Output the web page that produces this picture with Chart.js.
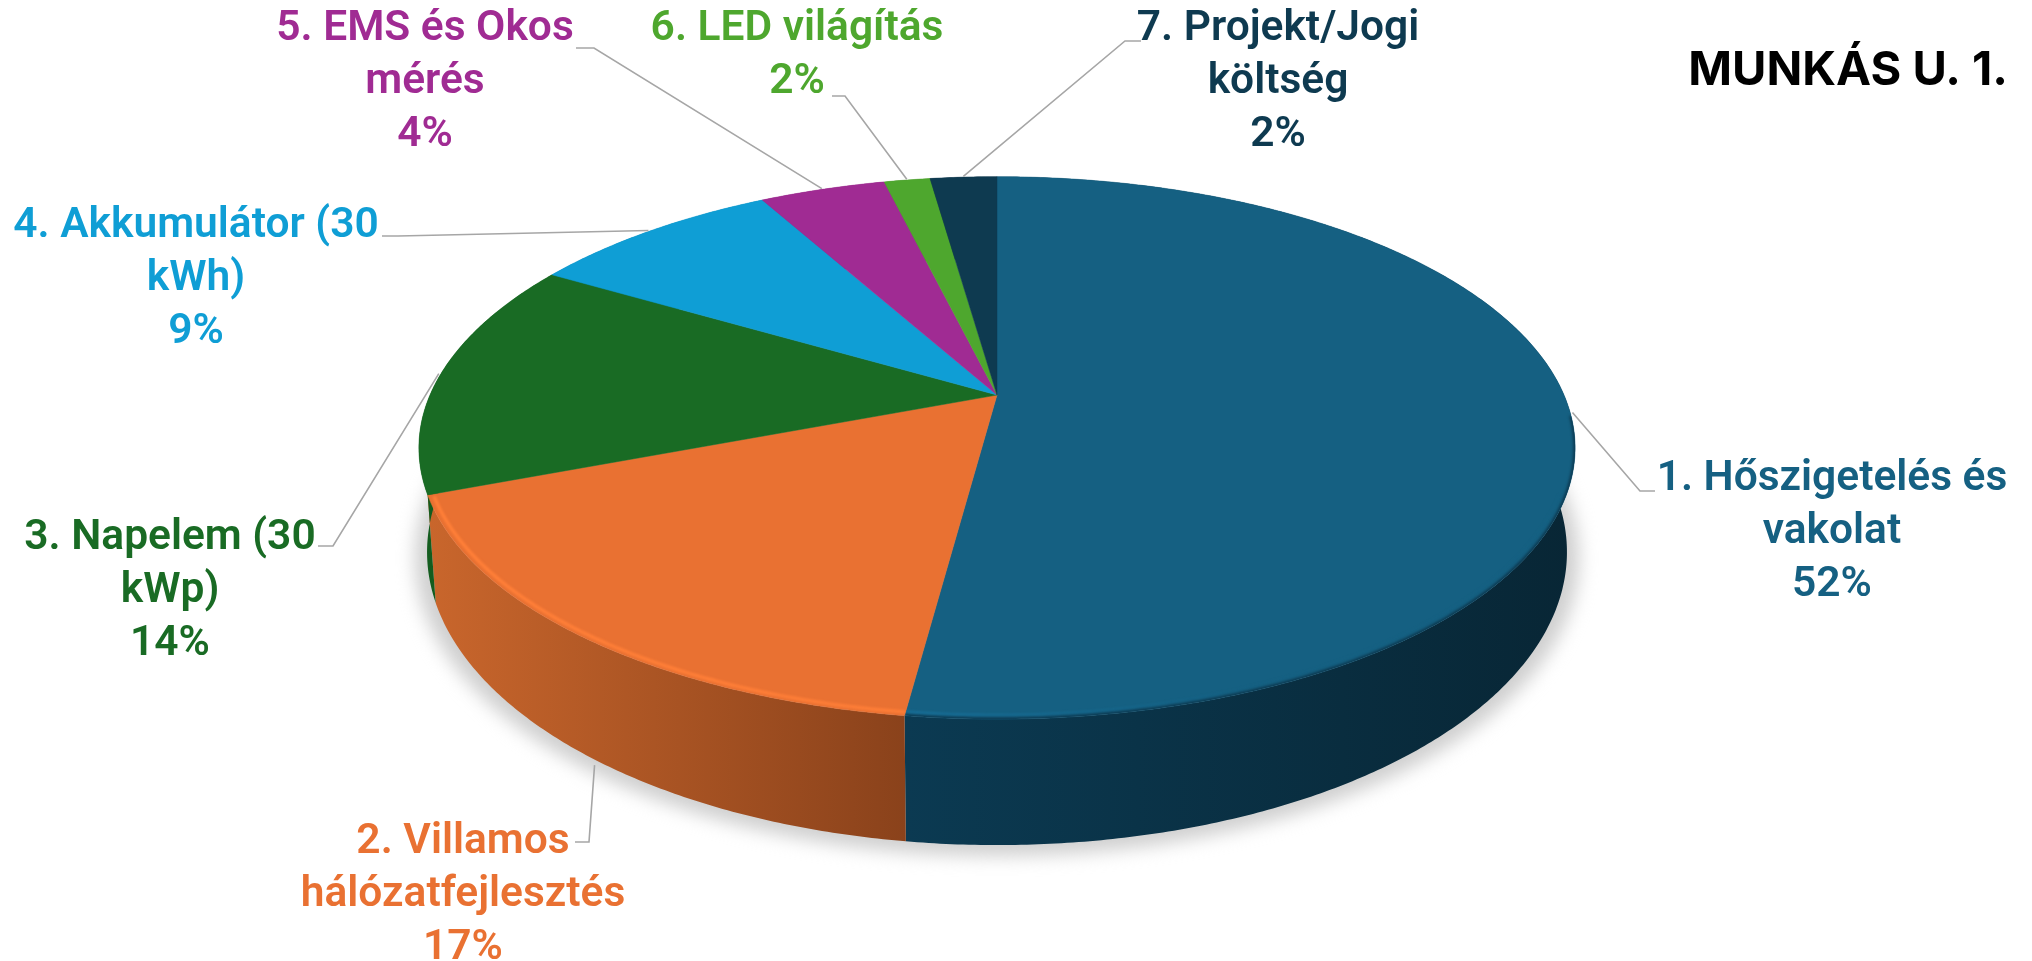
<!DOCTYPE html>
<html lang="hu">
<head>
<meta charset="utf-8">
<title>MUNKÁS U. 1.</title>
<style>html,body{margin:0;padding:0;background:#fff}#wrap{width:2032px;height:961px}</style>
<script src="https://cdn.jsdelivr.net/npm/chart.js@4"></script>
</head>
<body>
<div id="wrap"><canvas id="c" width="2032" height="961"></canvas></div>
<script>
const chartTitle = 'MUNKÁS U. 1.';
const categories = ['1. Hőszigetelés és vakolat','2. Villamos hálózatfejlesztés','3. Napelem (30 kWp)','4. Akkumulátor (30 kWh)','5. EMS és Okos mérés','6. LED világítás','7. Projekt/Jogi költség'];
const values = [52.1, 17.1, 14.25, 8.5, 4.25, 1.55, 2.25];
const labelLines = [['1. Hőszigetelés és','vakolat'],['2. Villamos','hálózatfejlesztés'],['3. Napelem (30','kWp)'],['4. Akkumulátor (30','kWh)'],['5. EMS és Okos','mérés'],['6. LED világítás'],['7. Projekt/Jogi','költség']];
const topColors = ['#156082','#E97132','#196B24','#0F9ED5','#A02B93','#4EA72E','#0E3A50'];
const wallColors = [['#0b3a52','#082635'],['#c9662c','#8a421b'],['#135c1e','#135c1e'],['#0b7aa5','#0b7aa5'],['#7a2070','#7a2070'],['#3b8023','#3b8023'],['#0a2b3c','#0a2b3c']];
const rimColors = [['#186f98','#156082'],['#ff7f38','#fb7b36'],['#1f8430','#1f8430'],null,null,null,null];
const edgeColors = ['#0a3045',null,null,null,null,null,null];

/* layout of labels, leaders and the perspective view, in page pixels */
const labelBoxes = [[1832,479],[463,842],[170,538],[196,226],[425,29],[797,29],[1278,29]];
const leaderElbows = [[[1640,491],[1655,491]],[[589,842],[575,842]],[[333,546],[318,546]],[[398,236],[382,236]],[[594,48],[576,48]],[[845,96],[832,96]],[[1125,41],[1141,41]]];
const leaderBaseShift = [null,-0.025,null,null,null,null,null];
const lineHeight = 53;
const view = { dx:-7, radius:300,
  top:{ ax:567/300, b:260.9/300, y:0 },
  base:{ ax:559/300, b:281.9/300, y:99.9 },
  q:0.195 };

function project(arc, angle, face, s){
  const u = s*Math.cos(angle), v = s*Math.sin(angle), w = 1 - view.q*v, r = arc.outerRadius;
  return [arc.x + view.dx + face.ax*r*u/w, arc.y + face.y + face.b*r*v/w];
}
function arcPoints(arc, face, s){
  const n = Math.max(4, Math.ceil((arc.endAngle-arc.startAngle)*120)), pts = [];
  for(let i=0;i<=n;i++) pts.push(project(arc, arc.startAngle+(arc.endAngle-arc.startAngle)*i/n, face, s));
  return pts;
}
function trace(ctx, pts, start){
  pts.forEach((p,i)=> (i===0 && !start) ? ctx.moveTo(p[0],p[1]) : ctx.lineTo(p[0],p[1]));
}

const pie3d = {
  id:'pie3d',
  beforeDatasetsDraw(chart){
    const ctx = chart.ctx, arcs = chart.getDatasetMeta(0).data, first = arcs[0];
    /* soft ground shadow */
    ctx.save();
    ctx.filter = 'blur(9px)';
    ctx.fillStyle = '#cfcfcf';
    ctx.beginPath();
    ctx.ellipse(first.x + view.dx, first.y + 163, 582, 298, 0, 0, Math.PI*2);
    ctx.fill();
    ctx.restore();
    /* walls */
    arcs.forEach((arc,i)=>{
      const t = arcPoints(arc, view.top, 1), b = arcPoints(arc, view.base, 1).reverse();
      const xs = t.concat(b).map(p=>p[0]);
      const g = ctx.createLinearGradient(Math.min(...xs),0,Math.max(...xs),0);
      g.addColorStop(0, wallColors[i][0]); g.addColorStop(1, wallColors[i][1]);
      ctx.fillStyle = g;
      ctx.beginPath(); trace(ctx, t); trace(ctx, b, true); ctx.closePath(); ctx.fill();
    });
    /* top faces */
    arcs.forEach((arc,i)=>{
      const pts = arcPoints(arc, view.top, 1);
      const path = new Path2D();
      path.moveTo(arc.x + view.dx, arc.y);
      pts.forEach(p=>path.lineTo(p[0],p[1]));
      path.closePath();
      ctx.fillStyle = topColors[i];
      ctx.strokeStyle = topColors[i];
      ctx.lineWidth = 0.5;
      ctx.fill(path); ctx.stroke(path);
      ctx.save();
      ctx.clip(path);
      if(rimColors[i]){
        const g = ctx.createLinearGradient(pts[pts.length-1][0] < arc.x ? pts[pts.length-1][0] : arc.x,0, arc.x + 330,0);
        g.addColorStop(0, rimColors[i][0]); g.addColorStop(1, rimColors[i][1]);
        ctx.filter = 'blur(1.3px)';
        ctx.strokeStyle = i === 0 ? (()=>{const h=ctx.createLinearGradient(900,0,1250,0);h.addColorStop(0,rimColors[0][0]);h.addColorStop(1,rimColors[0][1]);return h;})() : g;
        ctx.lineWidth = 3.5;
        ctx.beginPath();
        trace(ctx, arcPoints(arc, view.top, 0.991).filter(p=>p[1] > arc.y + 100));
        ctx.stroke();
      }
      if(edgeColors[i]){
        ctx.filter = 'blur(1.5px)';
        ctx.strokeStyle = edgeColors[i];
        ctx.lineWidth = 3;
        ctx.beginPath();
        trace(ctx, arcPoints(arc, view.top, 1).filter(p=>p[1] > arc.y + 20));
        ctx.stroke();
      }
      ctx.restore();
    });
    return false;
  },
  afterDraw(chart){
    const ctx = chart.ctx, arcs = chart.getDatasetMeta(0).data;
    const total = values.reduce((a,b)=>a+b,0);
    ctx.save();
    arcs.forEach((arc,i)=>{
      const mid = (arc.startAngle+arc.endAngle)/2, sh = leaderBaseShift[i];
      const a = sh !== null ? project(arc, mid+sh, view.base, 1.01) : project(arc, mid, view.top, 1.004);
      ctx.strokeStyle = '#a6a6a6'; ctx.lineWidth = 1.6;
      ctx.beginPath(); ctx.moveTo(a[0],a[1]);
      leaderElbows[i].forEach(p=>ctx.lineTo(p[0],p[1]));
      ctx.stroke();
      const lines = labelLines[i].concat([Math.round(values[i]/total*100)+'%']);
      ctx.font = '600 42.5px Roboto, sans-serif';
      ctx.fillStyle = topColors[i];
      ctx.textAlign = 'center'; ctx.textBaseline = 'middle';
      lines.forEach((t,k)=>ctx.fillText(t, labelBoxes[i][0], labelBoxes[i][1]+k*lineHeight));
    });
    ctx.restore();
  }
};

new Chart(document.getElementById('c'), {
  type:'pie',
  data:{ labels:categories, datasets:[{ data:values, backgroundColor:topColors, borderWidth:0, radius:view.radius }] },
  options:{
    responsive:false, animation:false,
    layout:{ padding:{ left:0, right:24, top:0, bottom:270.5 } },
    plugins:{
      legend:{ display:false }, tooltip:{ enabled:false },
      title:{ display:true, text:chartTitle, align:'end', color:'#000',
        font:{ family:'Inter, sans-serif', size:47, weight:'700' }, padding:{ top:43.1, bottom:0 } }
    }
  },
  plugins:[pie3d]
});
</script>
</body>
</html>
